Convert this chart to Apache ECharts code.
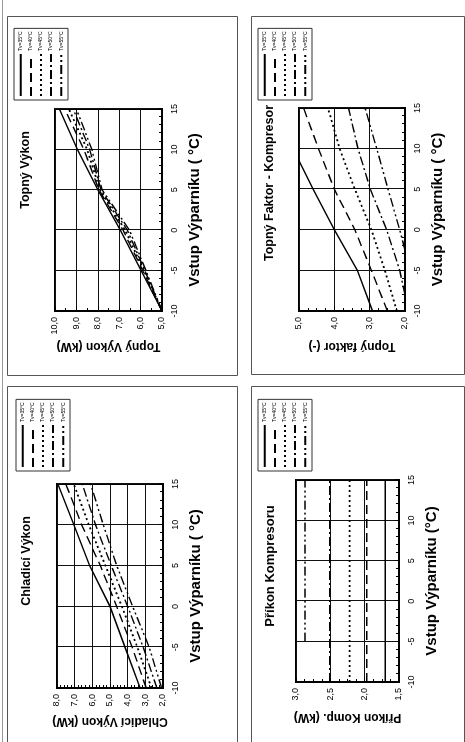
<!DOCTYPE html>
<html><head><meta charset="utf-8">
<script src="https://cdn.jsdelivr.net/npm/echarts@6/dist/echarts.min.js"></script>
<style>
html,body{margin:0;padding:0;background:#fff;width:465px;height:742px;overflow:hidden}
#wrap{position:absolute;left:0;top:0;width:742px;height:465px;transform-origin:0 0;transform:translateY(742px) rotate(-90deg)}
#c{width:742px;height:465px}
</style></head><body>
<div id="wrap"><div id="c"></div></div>
<script>
// ---- data ----
const temps = [-10, -5, 0, 5, 10, 15];
const seriesNames = ['Tv=35°C', 'Tv=40°C', 'Tv=45°C', 'Tv=50°C', 'Tv=55°C'];

// Chladicí Výkon (kW)
const coolTv35 = [3.3, 4.15, 5.0, 6.15, 7.05, 7.95];
const coolTv40 = [2.95, 3.75, 4.62, 5.55, 6.6, 7.5];
const coolTv45 = [2.65, 3.45, 4.33, 5.26, 6.2, 7.05];
const coolTv50 = [2.35, 3.12, 4.0, 4.93, 5.82, 6.57];
const coolTv55 = [2.08, 2.78, 3.72, 4.62, 5.38, 6.1];

// Topný Výkon (kW)
const heatTv35 = [5.0, 5.97, 6.95, 8.0, 8.95, 9.8];
const heatTv40 = [5.0, 5.9, 6.82, 7.95, 8.65, 9.55];
const heatTv45 = [5.0, 5.85, 6.72, 7.9, 8.5, 9.35];
const heatTv50 = [5.0, 5.8, 6.62, 7.85, 8.38, 9.15];
const heatTv55 = [5.0, 5.75, 6.52, 7.8, 8.28, 9.0];

// Příkon Komp. (kW)
const powTv35 = [1.70, 1.70, 1.70, 1.70, 1.70, 1.70];
const powTv40 = [1.97, 1.97, 1.97, 1.97, 1.97, 1.97];
const powTv45 = [2.22, 2.22, 2.22, 2.22, 2.22, 2.22];
const powTv50 = [2.51, 2.51, 2.51, 2.51, 2.51, 2.51];
const powTv55 = [null, 2.87, 2.87, 2.87, 2.87, 2.87];

// Topný faktor (-)
const copTv35 = [2.92, 3.35, 4.0, 4.6, 5.17, null];
const copTv40 = [2.5, 2.95, 3.42, 4.0, 4.45, 4.87];
const copTv45 = [2.23, 2.57, 2.95, 3.42, 3.85, 4.18];
const copTv50 = [1.9, 2.15, 2.52, 2.98, 3.33, 3.6];
const copTv55 = [null, 1.85, 2.15, 2.48, 2.8, 3.13];

// axis ranges [min, max, interval, minorSplit]
const xRange = [-10, 15, 5, 5];
const coolRange = [2, 8, 1, 5];
const heatRange = [5, 10, 1, 2];
const powRange = [1.5, 3.0, 0.5, 4];
const copRange = [2, 5, 1, 4];

// ---- styles ----
const FONT = "'Liberation Sans', Arial, sans-serif";
const dashTypes = ['solid', [9, 5], [2, 3], [9, 3, 2, 3], [9, 3, 2, 3, 2, 3]];
const lineWidths = [1.4, 1.4, 1.8, 1.4, 1.4];

const panels = [
  { grid: {left: 54, top: 57, width: 204, height: 106}, range: coolRange, yName: 'Chladicí Výkon (kW)', xName: 'Vstup Výparníku ( °C)', data: [coolTv35, coolTv40, coolTv45, coolTv50, coolTv55], yGap: 27, xGap: 25, legend: {left: 271, top: 16} },
  { grid: {left: 431, top: 55, width: 202, height: 107}, range: heatRange, yName: 'Topný Výkon (kW)', xName: 'Vstup Výparníku ( °C)', data: [heatTv35, heatTv40, heatTv45, heatTv50, heatTv55], yGap: 29, xGap: 25, legend: {left: 642, top: 14} },
  { grid: {left: 60, top: 296, width: 202, height: 103}, range: powRange, yName: 'Příkon Komp. (kW)', xName: 'Vstup Výparníku (°C)', data: [powTv35, powTv40, powTv45, powTv50, powTv55], yGap: 29, xGap: 25, legend: {left: 271, top: 258} },
  { grid: {left: 431, top: 299, width: 203, height: 106}, range: copRange, yName: 'Topný faktor (-)', xName: 'Vstup Výparníku ( °C)', data: [copTv35, copTv40, copTv45, copTv50, copTv55], yGap: 29, xGap: 25, legend: {left: 642, top: 258} }
];

const fmtY = v => v.toFixed(1).replace('.', ',');

const option = {
  animation: false,
  backgroundColor: '#fff',
  textStyle: {fontFamily: FONT},
  grid: panels.map(p => Object.assign({show: true, borderColor: '#000', borderWidth: 2, containLabel: false}, p.grid)),
  xAxis: panels.map((p, i) => ({
    type: 'value', gridIndex: i, min: xRange[0], max: xRange[1], interval: xRange[2],
    name: p.xName, nameLocation: 'middle', nameGap: p.xGap,
    nameTextStyle: {fontFamily: FONT, fontWeight: 'bold', fontSize: 15, color: '#000'},
    axisLine: {show: true, onZero: false, lineStyle: {color: '#000', width: 2}},
    axisTick: {show: true, inside: true, length: 4, lineStyle: {color: '#000', width: 1}},
    minorTick: {show: true, splitNumber: xRange[3], length: 3, lineStyle: {color: '#000', width: 1}},
    splitLine: {show: true, lineStyle: {color: '#111', width: 1}},
    axisLabel: {fontFamily: FONT, fontSize: 9, color: '#000', margin: 8}
  })),
  yAxis: panels.map((p, i) => ({
    type: 'value', gridIndex: i, min: p.range[0], max: p.range[1], interval: p.range[2],
    name: p.yName, nameLocation: 'middle', nameGap: p.yGap, nameRotate: 90,
    nameTextStyle: {fontFamily: FONT, fontWeight: 'bold', fontSize: 12, color: '#000'},
    axisLine: {show: true, onZero: false, lineStyle: {color: '#000', width: 2}},
    axisTick: {show: true, inside: true, length: 4, lineStyle: {color: '#000', width: 1}},
    minorTick: {show: true, splitNumber: p.range[3], length: 3, lineStyle: {color: '#000', width: 1}},
    splitLine: {show: true, lineStyle: {color: '#111', width: 1}},
    axisLabel: {fontFamily: FONT, fontSize: 9, color: '#000', margin: 6, formatter: fmtY}
  })),
  legend: panels.map(p => ({
    orient: 'vertical', left: p.legend.left, top: p.legend.top,
    data: seriesNames, selectedMode: false,
    itemWidth: 42, itemHeight: 7, itemGap: 4.5,
    padding: [4, 3, 4, 3],
    borderColor: '#333', borderWidth: 1,
    itemStyle: {color: 'rgba(0,0,0,0)', borderWidth: 0, opacity: 0},
    lineStyle: {width: 2},
    textStyle: {fontFamily: FONT, fontSize: 5, color: '#000', padding: [0, 0, 0, -2]}
  })),
  series: [],
  graphic: [
    {type: 'line', silent: true, shape: {x1: 0, y1: 2.5, x2: 742, y2: 2.5}, style: {stroke: '#999', lineWidth: 1}},
    {type: 'rect', silent: true, shape: {x: -1.5, y: 7.5, width: 357, height: 230}, style: {fill: null, stroke: '#555', lineWidth: 1}},
    {type: 'rect', silent: true, shape: {x: 366.5, y: 7.5, width: 359, height: 230}, style: {fill: null, stroke: '#555', lineWidth: 1}},
    {type: 'rect', silent: true, shape: {x: -1.5, y: 251.5, width: 357, height: 213}, style: {fill: null, stroke: '#555', lineWidth: 1}},
    {type: 'rect', silent: true, shape: {x: 367.5, y: 251.5, width: 358, height: 213}, style: {fill: null, stroke: '#555', lineWidth: 1}},
    {type: 'text', silent: true, x: 181, y: 27, style: {text: 'Chladicí Výkon', font: "bold 12.5px " + FONT, fill: '#000', align: 'center', verticalAlign: 'middle', textAlign: 'center', textVerticalAlign: 'middle'}},
    {type: 'text', silent: true, x: 572, y: 26, style: {text: 'Topný Výkon', font: "bold 12.5px " + FONT, fill: '#000', align: 'center', verticalAlign: 'middle', textAlign: 'center', textVerticalAlign: 'middle'}},
    {type: 'text', silent: true, x: 176, y: 270, style: {text: 'Příkon Kompresoru', font: "bold 13px " + FONT, fill: '#000', align: 'center', verticalAlign: 'middle', textAlign: 'center', textVerticalAlign: 'middle'}},
    {type: 'text', silent: true, x: 559, y: 270, style: {text: 'Topný Faktor - Kompresor', font: "bold 12.5px " + FONT, fill: '#000', align: 'center', verticalAlign: 'middle', textAlign: 'center', textVerticalAlign: 'middle'}}
  ]
};

panels.forEach((p, i) => {
  p.data.forEach((vals, k) => {
    option.series.push({
      type: 'line', name: seriesNames[k], xAxisIndex: i, yAxisIndex: i,
      data: temps.map((t, j) => [t, vals[j]]),
      showSymbol: false, symbol: 'none', clip: true, connectNulls: false,
      lineStyle: {color: '#000', width: lineWidths[k], type: dashTypes[k]},
      itemStyle: {color: '#000'},
      emphasis: {disabled: true}
    });
  });
});

const chart = echarts.init(document.getElementById('c'), null, {renderer: 'canvas'});
chart.setOption(option);
</script>
</body></html>
